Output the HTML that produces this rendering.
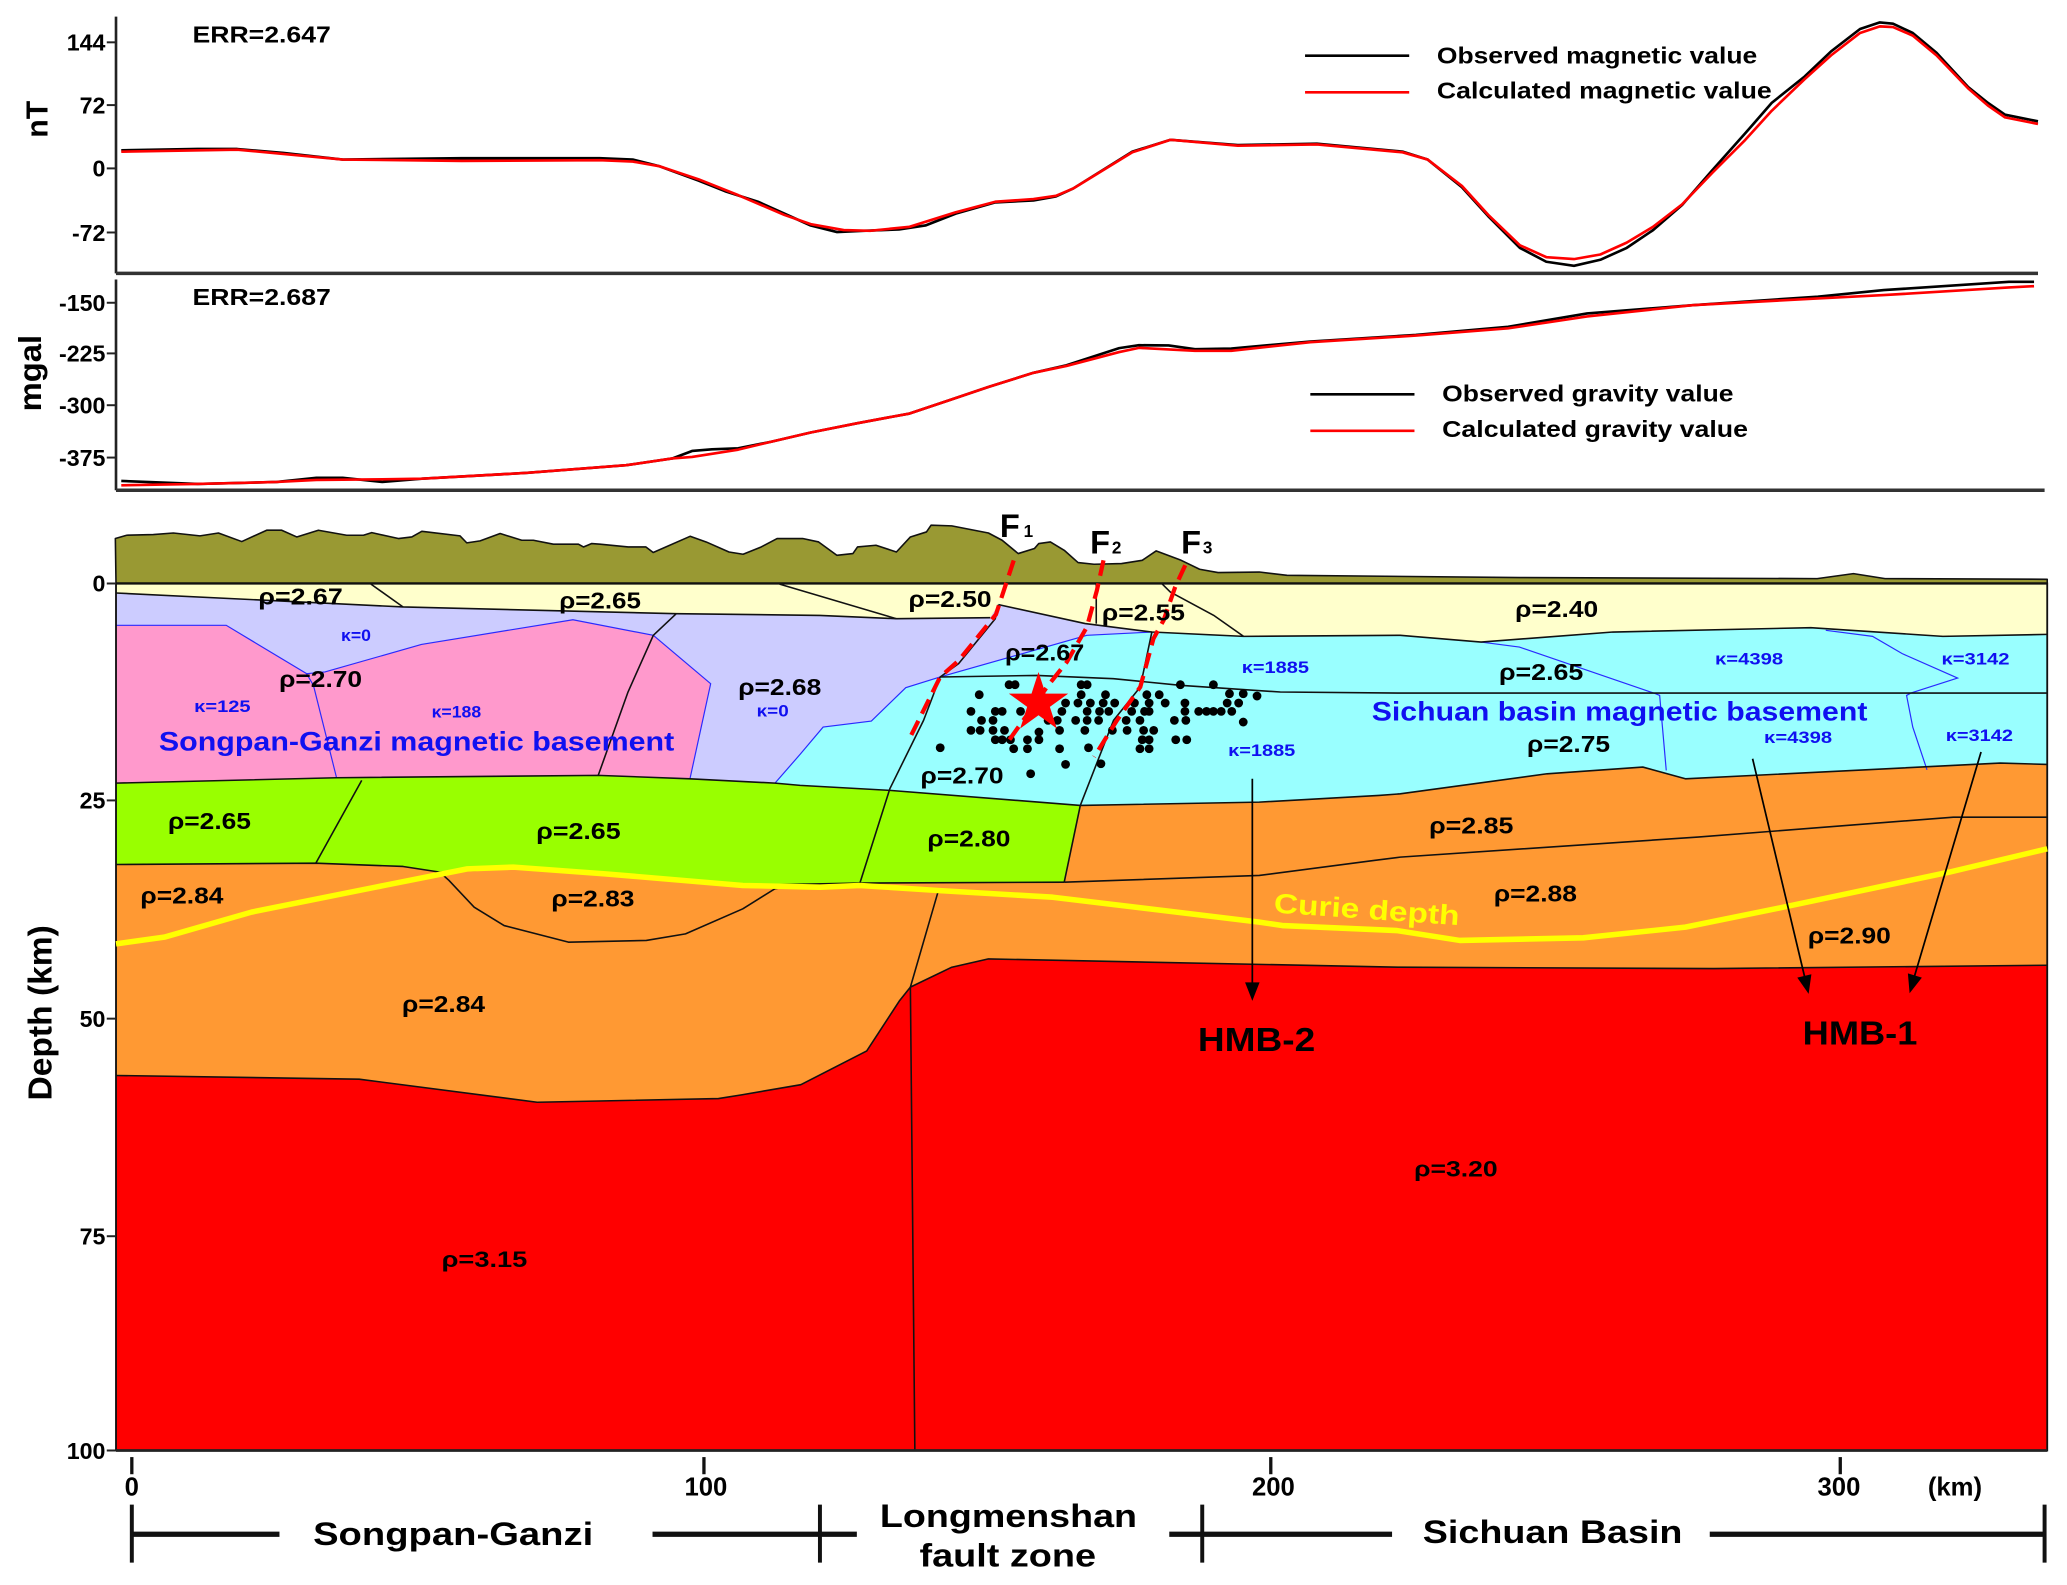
<!DOCTYPE html>
<html><head><meta charset="utf-8"><style>
html,body{margin:0;padding:0;background:#fff;}
svg{display:block;}
text{font-family:"Liberation Sans",Arial,sans-serif;font-weight:bold;}
.b{fill:none;stroke:#111;stroke-width:1.2;stroke-linejoin:round;}
.bl{fill:none;stroke:#2a2aff;stroke-width:0.9;}
.f{fill:none;stroke:#ff0000;stroke-width:3.2;stroke-dasharray:12 6;}
.r{font-size:17.6px;fill:#000;}
.k{font-size:12.4px;fill:#1010f0;}
.t{font-size:17.6px;fill:#000;}
</style></head><body>
<svg width="2067" height="1585" viewBox="0 0 1568 1202" preserveAspectRatio="none" xmlns="http://www.w3.org/2000/svg">
<rect x="0" y="0" width="1568" height="1202" fill="#fff"/>

<!-- ===== Magnetic panel ===== -->
<line x1="88" y1="12.6" x2="88" y2="207.3" stroke="#222" stroke-width="2"/>
<line x1="88" y1="207.3" x2="1546" y2="207.3" stroke="#333" stroke-width="2.6"/>
<g stroke="#222" stroke-width="1.5">
<line x1="81" y1="32.1" x2="88" y2="32.1"/><line x1="81" y1="79.7" x2="88" y2="79.7"/>
<line x1="81" y1="127.7" x2="88" y2="127.7"/><line x1="81" y1="176.3" x2="88" y2="176.3"/>
</g>
<g class="t" text-anchor="end">
<text x="80" y="38.4">144</text><text x="80" y="86">72</text><text x="80" y="134">0</text><text x="80" y="182.6">-72</text>
</g>
<text transform="translate(36,90.4) rotate(-90)" text-anchor="middle" style="font-size:23px">nT</text>
<text x="146" y="32.4" class="t" textLength="105" lengthAdjust="spacingAndGlyphs">ERR=2.647</text>

<polyline fill="none" stroke="#000" stroke-width="2" stroke-linejoin="round" points="92,114 150,113 180,113 215,116 260,121 350,120 455,120 480,121 500,126 530,137 550,145 575,153 595,162 615,171 635,176 655,175 682,174 702,171 725,162 755,153.5 784,152 801,149 814,143 859,115 888,106 939,110 999,109 1064,115 1083,121 1109,142 1129,164 1153,188 1173,198.5 1194,201.6 1214,197 1234,188 1254,174.5 1276,155.5 1299,129 1324,101 1344,78 1369,58 1389,39 1411,22 1426,17 1436,18 1451,25 1469,40 1493,66 1508,78 1521,87 1546,92"/>
<polyline fill="none" stroke="#ff0000" stroke-width="2" stroke-linejoin="round" points="92,115 180,113.5 260,121 350,122 455,121.5 480,122.5 500,126 530,136 560,148 595,163 615,170 640,174.5 660,175 690,172 725,161 755,153 784,151 801,148.5 814,143 859,115.5 888,106 939,110.5 999,109.5 1064,115.5 1083,121 1109,141 1129,163 1153,186 1173,195 1194,196.5 1214,193 1234,184 1254,172 1276,155 1299,131 1324,106 1344,84 1369,60 1389,42 1411,25 1426,20 1436,20.5 1451,27 1469,42 1493,67 1508,80 1521,89 1546,94"/>

<line x1="990" y1="42.2" x2="1069" y2="42.2" stroke="#000" stroke-width="2"/>
<line x1="990" y1="70" x2="1069" y2="70" stroke="#ff0000" stroke-width="2"/>
<text x="1090" y="48" class="t" textLength="243" lengthAdjust="spacingAndGlyphs">Observed magnetic value</text>
<text x="1090" y="74.8" class="t" textLength="254" lengthAdjust="spacingAndGlyphs">Calculated magnetic value</text>

<!-- ===== Gravity panel ===== -->
<line x1="88" y1="212" x2="88" y2="371.8" stroke="#222" stroke-width="2"/>
<line x1="88" y1="371.8" x2="1551" y2="371.8" stroke="#333" stroke-width="2.6"/>
<g stroke="#222" stroke-width="1.5">
<line x1="81" y1="229.6" x2="88" y2="229.6"/><line x1="81" y1="268" x2="88" y2="268"/>
<line x1="81" y1="307.3" x2="88" y2="307.3"/><line x1="81" y1="347" x2="88" y2="347"/>
</g>
<g class="t" text-anchor="end">
<text x="80" y="236">-150</text><text x="80" y="274.3">-225</text><text x="80" y="313.6">-300</text><text x="80" y="353.3">-375</text>
</g>
<text transform="translate(31,283) rotate(-90)" text-anchor="middle" style="font-size:24px" textLength="58" lengthAdjust="spacingAndGlyphs">mgal</text>
<text x="146" y="231.4" class="t" textLength="105" lengthAdjust="spacingAndGlyphs">ERR=2.687</text>

<polyline fill="none" stroke="#000" stroke-width="2" stroke-linejoin="round" points="92,364.7 150,367 210,365.5 240,362.4 260,362.4 290,365.5 320,363 400,358.6 475,352.8 510,347.7 525,342 540,340.7 560,340 585,335 615,328 650,321 690,313.6 720,303.5 750,293.4 784,282.7 809,277 849,264 864,261.8 886.5,262 906.5,264.8 934,264.3 994,259 1074,254 1144,247.8 1204,237.7 1284,231.4 1379,225 1429,220 1524,213.7 1543,213.7"/>
<polyline fill="none" stroke="#ff0000" stroke-width="2" stroke-linejoin="round" points="92,368 150,367 210,365.5 240,364 290,363.5 320,363 400,358.6 475,352.8 510,347.7 525,346.5 560,341 585,335 615,328 650,321 690,313.6 720,303.5 750,293.4 784,282.7 809,277.5 849,267 864,263.8 886.5,265 906.5,266 934,266 994,259.5 1074,254.5 1144,249 1204,240 1284,231.4 1379,226.3 1429,223.8 1524,218 1543,217"/>

<line x1="994" y1="299" x2="1073" y2="299" stroke="#000" stroke-width="2"/>
<line x1="994" y1="326.7" x2="1073" y2="326.7" stroke="#ff0000" stroke-width="2"/>
<text x="1094" y="304.5" class="t" textLength="221" lengthAdjust="spacingAndGlyphs">Observed gravity value</text>
<text x="1094" y="331.3" class="t" textLength="232" lengthAdjust="spacingAndGlyphs">Calculated gravity value</text>

<!-- ===== Model section ===== -->
<polygon fill="#999933" stroke="#111" stroke-width="1.2" stroke-linejoin="round" points="88,442.5 87.5,408.4 96.1,405.9 116.3,405.4 131.5,404.2 151.7,406.4 165.7,404.2 183.4,410.7 202.3,402.1 213.7,402.1 225.1,407.2 241.5,402.1 263,405.9 275.7,405.9 282,403.9 302.2,408.4 312.4,407.2 320,402.9 349,406.4 354.1,411.7 364.2,410.2 379.4,404.6 395.8,409.7 404.6,409.7 419.8,412.7 438.8,412.7 442.6,414.8 448.9,412.2 455.2,412.7 476.5,414.8 490,414.8 495.5,419 523.5,406.7 535.7,411 553,418.6 563.7,420.3 577.4,414.8 589.5,408.4 608.9,408.4 621,411 634.8,421.1 647,419.8 650.5,414.8 664.5,413.5 680,418.6 690.6,407.2 702.8,403.4 706.3,398.3 722,398.8 749.8,404.2 760.2,409.7 772.4,419.8 784.7,416 788,412.2 796.8,411 807.3,417.3 817.8,426.6 829.9,427.9 850.8,427.4 866.5,424.9 877,417.8 896,424.9 910,431.7 924,434.2 955.3,433.8 976.3,436.3 1153,438 1378.5,438.8 1406,435 1430,438.8 1553,439.3 1553,442.5"/>

<rect x="88" y="442.5" width="1465" height="657.5" fill="#ff9933"/>
<polygon fill="#ffffcc" points="88,442.5 1553,442.5 1553,481.1 1473.8,482.6 1373.7,476 1223.6,479.3 1123.5,486.9 1062.2,481.8 943.4,482.6 873.8,479.3 823.2,472.9 757.5,458.5 751.2,468.4 680,469.2 622,466.7 513,465.4 305.8,460.3 88,449.7"/>
<polygon fill="#ccccff" points="88,449.7 305.8,460.3 513,465.4 622,466.7 680,469.2 751.2,468.4 757.5,458.5 823.2,472.9 873.8,479.3 824.5,481.8 713.2,513.4 687.1,521.5 661,546.8 624.4,551.4 607,572 587.9,593.9 88,593.9"/>
<polygon fill="#ff99cc" points="88,474.2 171.6,474.2 232.6,510.9 246.5,509.6 319.7,488.7 434.6,470 495.6,481.8 539.1,518.5 523.4,590.6 453.8,588 255.3,589.8 88,593.9"/>
<polygon fill="#99ffff" points="587.9,593.9 607,572 624.4,551.4 661,546.8 687.1,521.5 713.2,513.4 824.5,481.8 873.8,479.3 943.4,482.6 1062.2,481.8 1123.5,486.9 1223.6,479.3 1373.7,476 1473.8,482.6 1553,481.1 1553,579.7 1517.3,578.7 1278.5,590.6 1246.2,581.7 1173.6,586.8 1062.2,602 1046,603.2 955.3,608.3 819.5,610.8 675,599.4 607,595.6"/>
<polygon fill="#99ff00" points="88,593.9 255.3,589.8 453.8,588 523.4,590.6 587.9,593.9 607,595.6 675,599.4 819.5,610.8 807.3,669 652.3,669.7 622,672.5 563.5,671 459,662.7 389.4,658.5 354.5,659.5 333.6,661.4 305.8,657.1 239.6,654.6 88,655.6"/>
<polygon fill="#ff0000" points="88,815.6 272.5,818.4 407.5,835.9 545,833.1 562.5,830.3 607.5,822.6 657.5,797 682.5,758.7 690.6,748.6 722,733.5 749.8,727.2 1062,733.5 1300,734.5 1553,732 1553,1100 88,1100"/>

<polyline class="bl" stroke="#222288" points="88,474.2 171.6,474.2 232.6,510.9 246.5,509.6 319.7,488.7 434.6,470 495.6,481.8 539.1,518.5 523.4,590.6"/>
<polyline class="bl" points="232.6,510.9 237.8,519.8 255.3,589.8"/>
<polyline class="bl" points="587.9,593.9 607,572 624.4,551.4 661,546.8 687.1,521.5 713.2,513.4 824.5,481.8 873.8,479.3"/>
<polyline class="bl" points="1123.5,486.9 1152.6,490.7 1255.9,526.1 1259,527.4 1264,584.3"/>
<polyline class="bl" points="1385,478 1420.5,482.6 1443,495.7 1485,514.2 1449.5,525.6 1446.3,527.4 1451,551.4 1461.8,583.8"/>

<polyline class="b" points="88,449.7 305.8,460.3 513,465.4 622,466.7 680,469.2 751.2,468.4"/>
<polyline class="b" points="757.5,458.5 823.2,472.9 873.8,479.3 943.4,482.6 1062.2,481.8 1123.5,486.9 1223.6,479.3 1373.7,476 1473.8,482.6 1553,481.1"/>
<polyline class="b" points="281.4,443 305.8,460.3"/>
<polyline class="b" points="591.4,443 680,469.2"/>
<polyline class="b" points="831.6,442.6 831.6,473"/>
<polyline class="b" points="881.4,442.6 887.7,448.9 920.6,466.6 943.4,482.6"/>
<polyline class="b" points="757.5,458.5 755,469.2 727.2,503.3 713.2,513.4 700.6,546.3 675,598.2 652.3,669.7"/>
<polyline class="b" points="513,465.4 495.6,481.8 476.4,524.8 453.8,588"/>
<polyline class="b" points="274.4,591.8 239.6,654.6"/>
<polyline class="b" points="713.2,513.4 786.6,512.2 844.7,514.7 895.3,519.7 971.2,524.8 1062.2,525.6 1553,525.6"/>
<polyline class="b" points="873.8,479.3 865,521 844.7,546.3 819.5,610.8 807.3,669"/>
<polyline class="b" points="88,593.9 255.3,589.8 453.8,588 523.4,590.6 587.9,593.9 607,595.6 675,599.4 819.5,610.8 955.3,608.3 1046,603.2 1062.2,602 1173.6,586.8 1246.2,581.7 1278.5,590.6 1517.3,578.7 1553,579.7"/>
<polyline class="b" points="88,655.6 239.6,654.6 305.8,657.1 333.6,661.4 340.6,667.7 359.7,688 382.4,701.9 431.2,714.5 490.3,713.2 520,708.2 563.5,689.2 587.9,674 610,670.5 652.3,669.7 807.3,669"/>
<polyline class="b" points="333.6,661.4 389.4,658.5 459,662.7 563.5,671 610,670.5"/>
<polyline class="b" points="807.3,669 955.3,663.9 1042.4,652.5 1062.2,650 1288,634.8 1481.8,619.7 1553,619.7"/>
<polyline class="b" points="711.5,676.6 690.6,748.6 694,1100"/>
<polyline class="b" points="88,815.6 272.5,818.4 407.5,835.9 545,833.1 562.5,830.3 607.5,822.6 657.5,797 682.5,758.7 690.6,748.6 722,733.5 749.8,727.2 1062,733.5 1300,734.5 1553,732"/>

<line x1="88" y1="442.5" x2="1553" y2="442.5" stroke="#111" stroke-width="1.8"/>
<rect x="88" y="442.5" width="1465" height="657.5" fill="none" stroke="#111" stroke-width="1.4"/>
<line x1="88" y1="1100" x2="1553" y2="1100" stroke="#222" stroke-width="2"/>

<polyline fill="none" stroke="#ffff00" stroke-width="4.2" stroke-linejoin="round" points="88,715.8 124.6,710.7 190.8,691.7 284.8,672.8 354.5,658.9 389.4,657.6 459,662.7 563.5,671.5 622,672.8 652.3,671.5 711.5,675.3 798.6,680.4 955.3,699.3 972.7,701.9 1059.8,705.7 1107.4,713.2 1201,711.2 1278.5,703.1 1352.7,688 1478.6,661.4 1553,643.7"/>

<g transform="translate(607,379.4) scale(0.3483,0.2529)" fill="#000">
<ellipse cx="455" cy="553" rx="9.6" ry="13.2"/><ellipse cx="468" cy="553" rx="9.6" ry="13.2"/><ellipse cx="612" cy="553" rx="9.6" ry="13.2"/><ellipse cx="625" cy="553" rx="9.6" ry="13.2"/><ellipse cx="828" cy="553" rx="9.6" ry="13.2"/><ellipse cx="900" cy="553" rx="9.6" ry="13.2"/>
<ellipse cx="390" cy="583" rx="9.6" ry="13.2"/><ellipse cx="612" cy="583" rx="9.6" ry="13.2"/><ellipse cx="665" cy="583" rx="9.6" ry="13.2"/><ellipse cx="755" cy="583" rx="9.6" ry="13.2"/><ellipse cx="782" cy="583" rx="9.6" ry="13.2"/><ellipse cx="935" cy="580" rx="9.6" ry="13.2"/><ellipse cx="965" cy="580" rx="9.6" ry="13.2"/><ellipse cx="995" cy="587" rx="9.6" ry="13.2"/>
<ellipse cx="578" cy="608" rx="9.6" ry="13.2"/><ellipse cx="605" cy="608" rx="9.6" ry="13.2"/><ellipse cx="632" cy="608" rx="9.6" ry="13.2"/><ellipse cx="660" cy="608" rx="9.6" ry="13.2"/><ellipse cx="685" cy="608" rx="9.6" ry="13.2"/><ellipse cx="728" cy="608" rx="9.6" ry="13.2"/><ellipse cx="760" cy="608" rx="9.6" ry="13.2"/><ellipse cx="795" cy="608" rx="9.6" ry="13.2"/><ellipse cx="838" cy="608" rx="9.6" ry="13.2"/><ellipse cx="930" cy="608" rx="9.6" ry="13.2"/><ellipse cx="955" cy="608" rx="9.6" ry="13.2"/>
<ellipse cx="372" cy="633" rx="9.6" ry="13.2"/><ellipse cx="425" cy="633" rx="9.6" ry="13.2"/><ellipse cx="440" cy="633" rx="9.6" ry="13.2"/><ellipse cx="480" cy="633" rx="9.6" ry="13.2"/><ellipse cx="570" cy="633" rx="9.6" ry="13.2"/><ellipse cx="625" cy="633" rx="9.6" ry="13.2"/><ellipse cx="652" cy="633" rx="9.6" ry="13.2"/><ellipse cx="672" cy="633" rx="9.6" ry="13.2"/><ellipse cx="722" cy="633" rx="9.6" ry="13.2"/><ellipse cx="750" cy="633" rx="9.6" ry="13.2"/><ellipse cx="760" cy="633" rx="9.6" ry="13.2"/><ellipse cx="838" cy="633" rx="9.6" ry="13.2"/><ellipse cx="868" cy="633" rx="9.6" ry="13.2"/><ellipse cx="885" cy="633" rx="9.6" ry="13.2"/><ellipse cx="900" cy="633" rx="9.6" ry="13.2"/><ellipse cx="917" cy="633" rx="9.6" ry="13.2"/><ellipse cx="940" cy="633" rx="9.6" ry="13.2"/>
<ellipse cx="395" cy="660" rx="9.6" ry="13.2"/><ellipse cx="420" cy="660" rx="9.6" ry="13.2"/><ellipse cx="540" cy="660" rx="9.6" ry="13.2"/><ellipse cx="560" cy="660" rx="9.6" ry="13.2"/><ellipse cx="600" cy="660" rx="9.6" ry="13.2"/><ellipse cx="625" cy="660" rx="9.6" ry="13.2"/><ellipse cx="650" cy="660" rx="9.6" ry="13.2"/><ellipse cx="710" cy="660" rx="9.6" ry="13.2"/><ellipse cx="740" cy="660" rx="9.6" ry="13.2"/><ellipse cx="815" cy="660" rx="9.6" ry="13.2"/><ellipse cx="840" cy="660" rx="9.6" ry="13.2"/><ellipse cx="965" cy="665" rx="9.6" ry="13.2"/>
<ellipse cx="372" cy="690" rx="9.6" ry="13.2"/><ellipse cx="392" cy="690" rx="9.6" ry="13.2"/><ellipse cx="420" cy="690" rx="9.6" ry="13.2"/><ellipse cx="445" cy="690" rx="9.6" ry="13.2"/><ellipse cx="565" cy="690" rx="9.6" ry="13.2"/><ellipse cx="620" cy="690" rx="9.6" ry="13.2"/><ellipse cx="680" cy="690" rx="9.6" ry="13.2"/><ellipse cx="712" cy="690" rx="9.6" ry="13.2"/><ellipse cx="748" cy="690" rx="9.6" ry="13.2"/><ellipse cx="770" cy="690" rx="9.6" ry="13.2"/><ellipse cx="520" cy="695" rx="9.6" ry="13.2"/>
<ellipse cx="425" cy="718" rx="9.6" ry="13.2"/><ellipse cx="440" cy="718" rx="9.6" ry="13.2"/><ellipse cx="458" cy="718" rx="9.6" ry="13.2"/><ellipse cx="495" cy="718" rx="9.6" ry="13.2"/><ellipse cx="520" cy="718" rx="9.6" ry="13.2"/><ellipse cx="745" cy="718" rx="9.6" ry="13.2"/><ellipse cx="760" cy="718" rx="9.6" ry="13.2"/><ellipse cx="818" cy="718" rx="9.6" ry="13.2"/><ellipse cx="842" cy="718" rx="9.6" ry="13.2"/>
<ellipse cx="305" cy="742" rx="9.6" ry="13.2"/><ellipse cx="465" cy="745" rx="9.6" ry="13.2"/><ellipse cx="495" cy="745" rx="9.6" ry="13.2"/><ellipse cx="565" cy="745" rx="9.6" ry="13.2"/><ellipse cx="628" cy="742" rx="9.6" ry="13.2"/><ellipse cx="740" cy="745" rx="9.6" ry="13.2"/><ellipse cx="760" cy="745" rx="9.6" ry="13.2"/>
<ellipse cx="578" cy="792" rx="9.6" ry="13.2"/><ellipse cx="655" cy="790" rx="9.6" ry="13.2"/><ellipse cx="502" cy="820" rx="9.6" ry="13.2"/>
</g>

<polyline class="f" points="769,425 755.5,466 727.2,501 713.2,513.4 690,560"/>
<polyline class="f" points="837.1,424.9 832.1,447.7 824.5,475.5 809.3,502 794.2,521 765,562"/>
<polyline class="f" points="899.1,428.7 891.5,445.1 882.7,470.4 875,484.3 865,521 847.3,546.3 830,574"/>
<polygon fill="#ff0000" points="787.8,509.6 793.1,526 810.3,526 796.4,536.1 801.7,552.5 787.8,542.4 773.9,552.5 779.2,536.1 765.3,526 782.5,526"/>

<g stroke="#000" stroke-width="1.3" fill="#000">
<line x1="950" y1="590.6" x2="950" y2="748"/>
<polygon stroke="none" points="950,759 944.5,745 955.5,745"/>
<line x1="1329.5" y1="575.4" x2="1369.5" y2="743"/>
<polygon stroke="none" points="1372,753.7 1374.1,738.8 1363.4,741.4"/>
<line x1="1502.8" y1="570.3" x2="1451.5" y2="743"/>
<polygon stroke="none" points="1448.6,753.2 1457.9,741.4 1447.3,738.2"/>
</g>

<text x="758.5" y="407.2" style="font-size:24.7px">F</text><text x="776.5" y="407.2" style="font-size:13px">1</text>
<text x="827" y="419.9" style="font-size:24.7px">F</text><text x="843.5" y="419.9" style="font-size:13px">2</text>
<text x="896" y="419.9" style="font-size:24.7px">F</text><text x="912.5" y="419.9" style="font-size:13px">3</text>

<g class="r">
<text x="196" y="458.5" textLength="64" lengthAdjust="spacingAndGlyphs">ρ=2.67</text>
<text x="424.2" y="461.3" textLength="62" lengthAdjust="spacingAndGlyphs">ρ=2.65</text>
<text x="689.2" y="460.3" textLength="63" lengthAdjust="spacingAndGlyphs">ρ=2.50</text>
<text x="835.9" y="470.4" textLength="63" lengthAdjust="spacingAndGlyphs">ρ=2.55</text>
<text x="762.5" y="500.8" textLength="60" lengthAdjust="spacingAndGlyphs">ρ=2.67</text>
<text x="1149.4" y="467.9" textLength="63" lengthAdjust="spacingAndGlyphs">ρ=2.40</text>
<text x="211.7" y="521" textLength="63" lengthAdjust="spacingAndGlyphs">ρ=2.70</text>
<text x="560" y="527" textLength="63" lengthAdjust="spacingAndGlyphs">ρ=2.68</text>
<text x="1137.1" y="515.6" textLength="64" lengthAdjust="spacingAndGlyphs">ρ=2.65</text>
<text x="1158.4" y="570.3" textLength="63" lengthAdjust="spacingAndGlyphs">ρ=2.75</text>
<text x="698.3" y="594" textLength="63" lengthAdjust="spacingAndGlyphs">ρ=2.70</text>
<text x="127.4" y="628.7" textLength="63" lengthAdjust="spacingAndGlyphs">ρ=2.65</text>
<text x="406.8" y="636.3" textLength="64" lengthAdjust="spacingAndGlyphs">ρ=2.65</text>
<text x="703.5" y="642" textLength="63" lengthAdjust="spacingAndGlyphs">ρ=2.80</text>
<text x="1084.1" y="632" textLength="64" lengthAdjust="spacingAndGlyphs">ρ=2.85</text>
<text x="106.5" y="685" textLength="63" lengthAdjust="spacingAndGlyphs">ρ=2.84</text>
<text x="418.3" y="687.6" textLength="63" lengthAdjust="spacingAndGlyphs">ρ=2.83</text>
<text x="1133.2" y="683.8" textLength="63" lengthAdjust="spacingAndGlyphs">ρ=2.88</text>
<text x="1371.4" y="715.4" textLength="63" lengthAdjust="spacingAndGlyphs">ρ=2.90</text>
<text x="305" y="767.3" textLength="63" lengthAdjust="spacingAndGlyphs">ρ=2.84</text>
<text x="1072.7" y="892.4" style="font-size:16.5px" textLength="63.4" lengthAdjust="spacingAndGlyphs">ρ=3.20</text>
<text x="335" y="961" style="font-size:16.5px" textLength="65" lengthAdjust="spacingAndGlyphs">ρ=3.15</text>
</g>

<g class="k">
<text x="258.7" y="486" textLength="22.7" lengthAdjust="spacingAndGlyphs">κ=0</text>
<text x="147.3" y="540" textLength="42.8" lengthAdjust="spacingAndGlyphs">κ=125</text>
<text x="327.4" y="544" textLength="37.6" lengthAdjust="spacingAndGlyphs">κ=188</text>
<text x="574" y="543.5" textLength="24.3" lengthAdjust="spacingAndGlyphs">κ=0</text>
<text x="942" y="510.3" textLength="51" lengthAdjust="spacingAndGlyphs">κ=1885</text>
<text x="931.6" y="573.4" textLength="51" lengthAdjust="spacingAndGlyphs">κ=1885</text>
<text x="1301" y="504" textLength="51.7" lengthAdjust="spacingAndGlyphs">κ=4398</text>
<text x="1472.8" y="504" textLength="51.6" lengthAdjust="spacingAndGlyphs">κ=3142</text>
<text x="1338.2" y="563.4" textLength="51.6" lengthAdjust="spacingAndGlyphs">κ=4398</text>
<text x="1476" y="562" textLength="51" lengthAdjust="spacingAndGlyphs">κ=3142</text>
</g>

<text x="120.5" y="569.1" style="font-size:20.5px;fill:#1010f0" textLength="391" lengthAdjust="spacingAndGlyphs">Songpan-Ganzi magnetic basement</text>
<text x="1040.6" y="546.3" style="font-size:20.5px;fill:#1010f0" textLength="376" lengthAdjust="spacingAndGlyphs">Sichuan basin magnetic basement</text>

<text transform="translate(966,692) rotate(3.9)" style="font-size:21px;fill:#ffff00" textLength="141" lengthAdjust="spacingAndGlyphs">Curie depth</text>

<text x="908.7" y="797" style="font-size:25.5px" textLength="89" lengthAdjust="spacingAndGlyphs">HMB-2</text>
<text x="1367.5" y="792" style="font-size:25.5px" textLength="87" lengthAdjust="spacingAndGlyphs">HMB-1</text>

<g stroke="#222" stroke-width="1.5">
<line x1="81" y1="442.5" x2="88" y2="442.5"/><line x1="81" y1="607" x2="88" y2="607"/>
<line x1="81" y1="772.5" x2="88" y2="772.5"/><line x1="81" y1="937.5" x2="88" y2="937.5"/>
<line x1="81" y1="1100" x2="88" y2="1100"/>
</g>
<g class="t" text-anchor="end">
<text x="80" y="448.5">0</text><text x="80" y="613.3">25</text><text x="80" y="779">50</text><text x="80" y="943.8">75</text><text x="80" y="1106.3">100</text>
</g>
<text transform="translate(39.2,834.6) rotate(-90)" style="font-size:25.5px" textLength="133" lengthAdjust="spacingAndGlyphs">Depth (km)</text>

<g stroke="#111" stroke-width="2.5">
<line x1="100" y1="1105" x2="100" y2="1118"/><line x1="534" y1="1105" x2="534" y2="1118"/>
<line x1="964" y1="1105" x2="964" y2="1118"/><line x1="1396" y1="1105" x2="1396" y2="1118"/>
</g>
<g style="font-size:19.5px" text-anchor="middle">
<text x="100" y="1134">0</text><text x="535.5" y="1134">100</text><text x="966" y="1134">200</text><text x="1395" y="1134">300</text><text x="1483" y="1134">(km)</text>
</g>

<g stroke="#111" stroke-width="4">
<line x1="100" y1="1163.5" x2="212" y2="1163.5"/>
<line x1="495" y1="1163.5" x2="650" y2="1163.5"/>
<line x1="887" y1="1163.5" x2="1056" y2="1163.5"/>
<line x1="1297" y1="1163.5" x2="1551" y2="1163.5"/>
</g>
<g stroke="#111" stroke-width="3">
<line x1="100" y1="1141" x2="100" y2="1185"/>
<line x1="622" y1="1141" x2="622" y2="1185"/>
<line x1="912" y1="1141" x2="912" y2="1185"/>
<line x1="1551" y1="1141" x2="1551" y2="1185"/>
</g>
<text x="237.5" y="1171.8" style="font-size:24.8px" textLength="212.5" lengthAdjust="spacingAndGlyphs">Songpan-Ganzi</text>
<text x="667.5" y="1158.2" style="font-size:24.8px" textLength="195" lengthAdjust="spacingAndGlyphs">Longmenshan</text>
<text x="697.5" y="1187.9" style="font-size:24.8px" textLength="134" lengthAdjust="spacingAndGlyphs">fault zone</text>
<text x="1079.3" y="1170" style="font-size:24.8px" textLength="197" lengthAdjust="spacingAndGlyphs">Sichuan Basin</text>
</svg>
</body></html>
